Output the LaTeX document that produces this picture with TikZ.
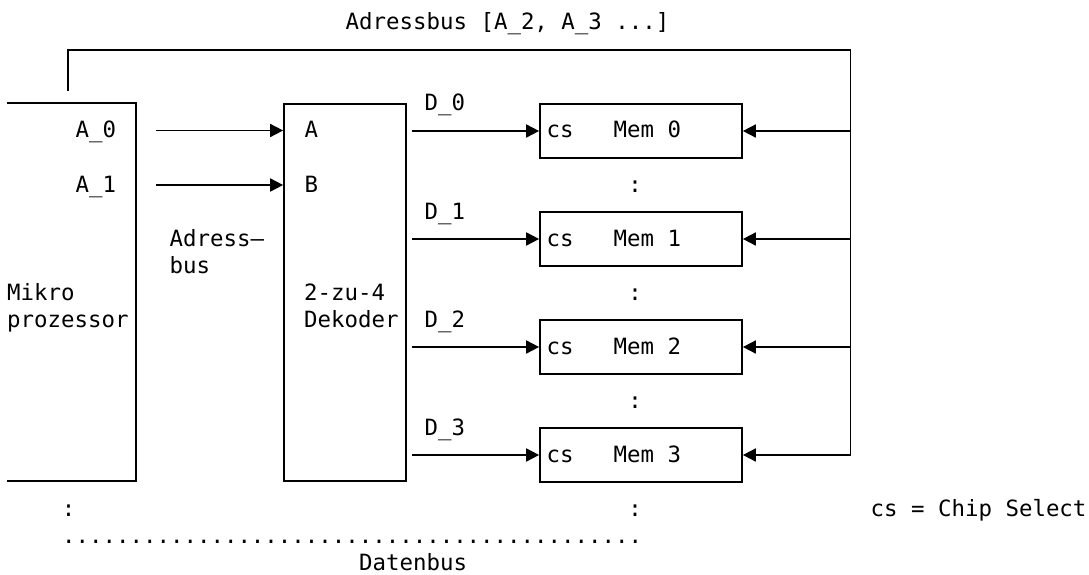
\documentclass[tikz,border=0pt]{standalone}
\usepackage{fontspec}
\usetikzlibrary{arrows.meta}
\newfontfamily\dmono{DejaVu Sans Mono}
\tikzset{
  lbl/.style={anchor=base west,inner sep=0pt,font=\dmono\fontsize{22.4}{27}\selectfont},
  clbl/.style={anchor=base,inner sep=0pt,font=\dmono\fontsize{22.4}{27}\selectfont},
  wire/.style={line width=1.7pt,line cap=rect},
  arr/.style={line width=1.7pt,-{Triangle[length=13pt,width=13pt]}},
  membox/.style={draw,line width=1.7pt,rectangle,minimum width=202pt,minimum height=54pt,inner sep=0pt},
  decbox/.style={draw,line width=1.7pt,rectangle,minimum width=122pt,minimum height=377pt,inner sep=0pt},
  hidbox/.style={rectangle,minimum width=128pt,minimum height=378pt,inner sep=0pt}
}
\begin{document}
\begin{tikzpicture}[x=1pt,y=-1pt]
\useasboundingbox (0,0) rectangle (1089,575);
% boxes
\node[hidbox] (mp) at (72,292) {};
\draw[wire] (mp.north west) -- (mp.north east) -- (mp.south east) -- (mp.south west);
\node[decbox] (dec) at (345,292.5) {};
\node[membox] (m0) at (641,131) {};
\node[membox] (m1) at (641,239) {};
\node[membox] (m2) at (641,347) {};
\node[membox] (m3) at (641,455) {};
% address bus on top
\coordinate (busL) at (68.3,90.5);
\coordinate (busR) at (850.5,50);
\coordinate (busB) at (850.5,455);
\draw[wire] (busL) |- (busR) -- (busB);
\foreach \m in {m0,m1,m2,m3}{\draw[arr] (busB |- \m) -- (\m.east);}
% A_0, A_1 arrows
\coordinate (a0s) at (156,130.5);
\coordinate (a1s) at (156,185);
\draw[arr] (a0s) -- (a0s -| dec.west);
\draw[arr] (a1s) -- (a1s -| dec.west);
% D arrows
\coordinate (d0s) at (412,131);
\coordinate (d1s) at (412,239);
\coordinate (d2s) at (412,347);
\coordinate (d3s) at (412,455);
\draw[arr] (d0s) -- (m0.west);
\draw[arr] (d1s) -- (m1.west);
\draw[arr] (d2s) -- (m2.west);
\draw[arr] (d3s) -- (m3.west);
% texts
\node[lbl] (title) at (345.5,29.5) {Adressbus [A\_2, A\_3 ...]};
\node[lbl] (ta0) at (75.5,138) {A\_0};
\node[lbl] (ta1) at (75.5,192) {A\_1};
\node[lbl] (tA) at (304.5,138) {A};
\node[lbl] (tB) at (304.5,192) {B};
\node[lbl] (td0) at (424.5,111) {D\_0};
\node[lbl] (td1) at (424.5,219) {D\_1};
\node[lbl] (td2) at (424.5,327) {D\_2};
\node[lbl] (td3) at (424.5,435) {D\_3};
\node[lbl] (cs0) at (546.5,138) {cs};
\node[lbl] (cs1) at (546.5,246) {cs};
\node[lbl] (cs2) at (546.5,354) {cs};
\node[lbl] (cs3) at (546.5,462) {cs};
\node[lbl] (mem0) at (613.5,138) {Mem 0};
\node[lbl] (mem1) at (613.5,246) {Mem 1};
\node[lbl] (mem2) at (613.5,354) {Mem 2};
\node[lbl] (mem3) at (613.5,462) {Mem 3};
\node[lbl] (tadr) at (169.5,246) {Adress—};
\node[lbl] (tbus) at (169.5,273) {bus};
\node[lbl] (tmik) at (7,300) {Mikro};
\node[lbl] (tpro) at (7,327) {prozessor};
\node[lbl] (t2zu) at (304,300) {2-zu-4};
\node[lbl] (tdek) at (304,327) {Dekoder};
\node[clbl] (c1) at (635,192) {:};
\node[clbl] (c2) at (635,300) {:};
\node[clbl] (c3) at (635,408) {:};
\node[clbl] (c4) at (68.5,516) {:};
\node[clbl] (c5) at (635,516) {:};
\node[lbl] (tcs) at (870.5,516) {cs = Chip Select};
\node[lbl] (dots) at (62,543) {...........................................};
\node[lbl] (tdat) at (359,570) {Datenbus};
\end{tikzpicture}
\end{document}
